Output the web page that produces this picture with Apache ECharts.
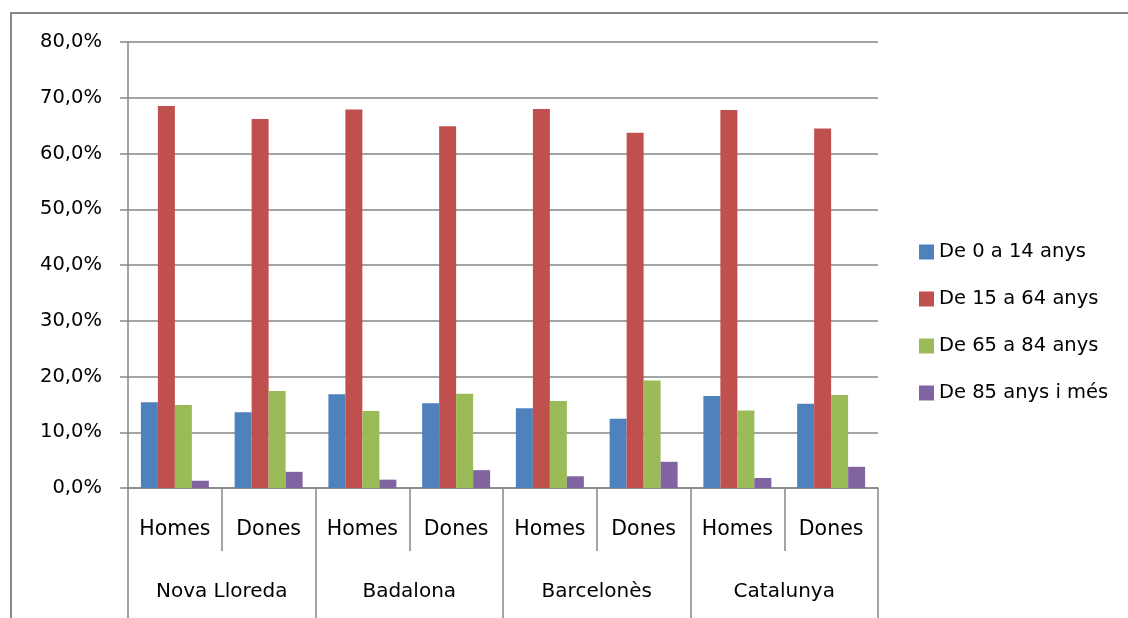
<!DOCTYPE html>
<html>
<head>
<meta charset="utf-8">
<script src="https://cdn.jsdelivr.net/npm/echarts@6/dist/echarts.min.js"></script>
<style>
html, body { margin: 0; padding: 0; background: #fff; }
#chart { width: 1128px; height: 618px; }
</style>
</head>
<body>
<div id="chart"></div>
<script>
// dades
var sexes = ['Homes', 'Dones', 'Homes', 'Dones', 'Homes', 'Dones', 'Homes', 'Dones'];
var territoris = ['Nova Lloreda', 'Badalona', 'Barcelonès', 'Catalunya'];
var yTicks = [0, 10, 20, 30, 40, 50, 60, 70, 80];
var seriesNames = ['De 0 a 14 anys', 'De 15 a 64 anys', 'De 65 a 84 anys', 'De 85 anys i més'];
var de0a14 = [15.4, 13.6, 16.8, 15.2, 14.3, 12.4, 16.5, 15.1];
var de15a64 = [68.5, 66.2, 67.9, 64.9, 68.0, 63.7, 67.8, 64.5];
var de65a84 = [14.9, 17.4, 13.8, 16.9, 15.6, 19.3, 13.9, 16.7];
var de85 = [1.3, 2.9, 1.5, 3.2, 2.1, 4.7, 1.8, 3.8];

var colors = ['#4f81bd', '#c0504d', '#9bbb59', '#8064a2'];
var gray = '#868686';
var font = 'DejaVu Sans';

function bar(name, data, color) {
    return {
        type: 'bar',
        name: name,
        data: data,
        barGap: '0%',
        barCategoryGap: '27.5%',
        itemStyle: { color: color }
    };
}

var chart = echarts.init(document.getElementById('chart'));
chart.setOption({
    animation: false,
    textStyle: { fontFamily: font },
    graphic: [{
        type: 'rect',
        shape: { x: 11, y: 13, width: 1400, height: 900 },
        style: { fill: 'none', stroke: gray, lineWidth: 2 },
        silent: true
    }],
    grid: { left: 128, right: 250, top: 42, bottom: 130 },
    legend: {
        orient: 'vertical',
        left: 914,
        top: 237,
        itemWidth: 15,
        itemHeight: 15,
        itemGap: 27,
        icon: 'rect',
        data: seriesNames,
        textStyle: { fontFamily: font, fontSize: 19.5, color: '#000', lineHeight: 19 }
    },
    xAxis: [{
        type: 'category',
        data: sexes,
        position: 'bottom',
        offset: 0,
        axisLine: { show: true, lineStyle: { color: gray, width: 1.5 } },
        axisTick: { show: true, interval: 0, length: 63, lineStyle: { color: gray, width: 1.5 } },
        axisLabel: { interval: 0, margin: 31, fontSize: 20.5, color: '#000', fontFamily: font }
    }, {
        type: 'category',
        data: territoris,
        position: 'bottom',
        offset: 0,
        axisLine: { show: false },
        axisTick: { show: true, interval: 0, length: 130, lineStyle: { color: gray, width: 1.5 } },
        axisLabel: { interval: 0, margin: 94, fontSize: 20, color: '#000', fontFamily: font }
    }],
    yAxis: {
        type: 'value',
        min: yTicks[0],
        max: yTicks[yTicks.length - 1],
        interval: 10,
        axisLine: { show: true, lineStyle: { color: gray, width: 1.5 } },
        axisTick: { show: true, length: 8, lineStyle: { color: gray, width: 1.5 } },
        splitLine: { show: true, lineStyle: { color: gray, width: 1.5 } },
        axisLabel: {
            margin: 26,
            fontSize: 19.5,
            color: '#000',
            fontFamily: font,
            formatter: function (v) { return v.toFixed(1).replace('.', ',') + '%'; }
        }
    },
    series: [
        bar(seriesNames[0], de0a14, colors[0]),
        bar(seriesNames[1], de15a64, colors[1]),
        bar(seriesNames[2], de65a84, colors[2]),
        bar(seriesNames[3], de85, colors[3])
    ]
});
</script>
</body>
</html>
